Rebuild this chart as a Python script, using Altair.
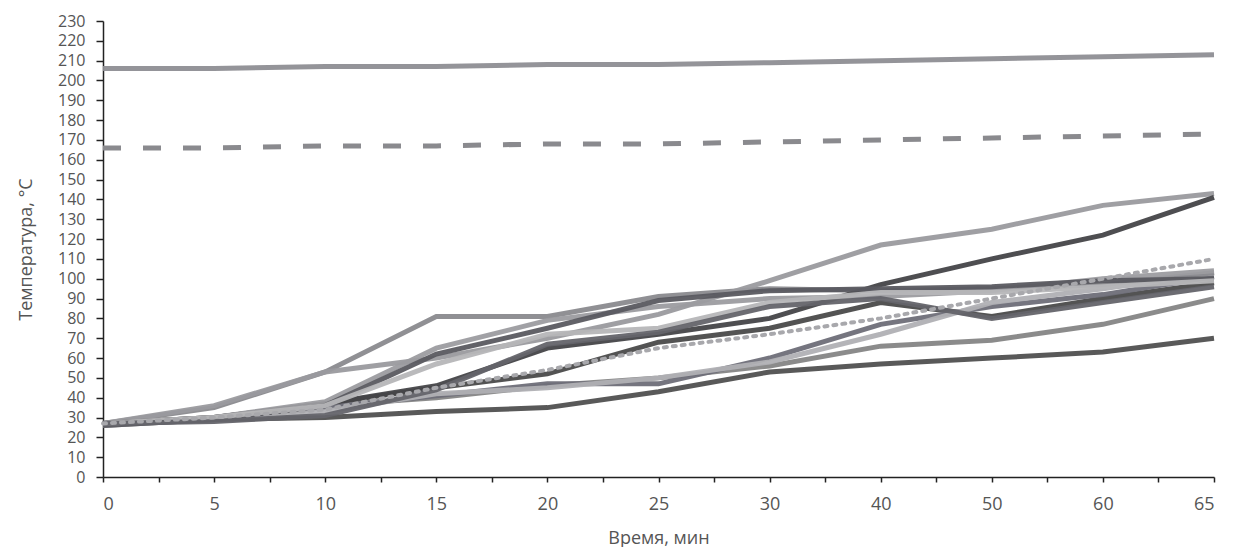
import altair as alt
import pandas as pd

times = ["0", "5", "10", "15", "20", "25", "30", "40", "50", "60", "65"]

top_solid = [206, 206, 207, 207, 208, 208, 209, 210, 211, 212, 213]
dashed = [166, 166, 167, 167, 168, 168, 169, 170, 171, 172, 173]
dotted = [27, 30, 34, 45, 54, 65, 72, 80, 90, 100, 110]

s01 = [27, 29, 30, 33, 35, 43, 53, 57, 60, 63, 70]
s02 = [26, 29, 36, 40, 46, 50, 56, 66, 69, 77, 90]
s03 = [27, 30, 37, 45, 52, 68, 75, 88, 81, 90, 98]
s04 = [27, 29, 35, 41, 47, 47, 60, 77, 86, 92, 101]
s05 = [26, 30, 33, 42, 45, 50, 58, 72, 88, 95, 103]
s06 = [27, 35, 53, 81, 81, 91, 95, 94, 95, 97, 103]
s07 = [27, 36, 53, 60, 70, 82, 99, 117, 125, 137, 143]
s08 = [27, 30, 37, 46, 65, 72, 80, 97, 110, 122, 141]
s09 = [27, 30, 38, 65, 79, 86, 90, 91, 94, 100, 104]
s10 = [26, 29, 36, 62, 75, 89, 94, 95, 96, 99, 100]
s11 = [27, 30, 36, 57, 72, 75, 88, 93, 93, 96, 99]
s12 = [27, 28, 31, 44, 67, 73, 86, 90, 80, 88, 96]

solid_series = {
    "s01": s01, "s02": s02, "s03": s03, "s04": s04, "s05": s05, "s06": s06,
    "s07": s07, "s08": s08, "s09": s09, "s10": s10, "s11": s11, "s12": s12,
    "top": top_solid,
}
solid_colors = ["#505050", "#858585", "#4a4a4a", "#6e6e78", "#b0b0b4", "#8a8a8e",
                "#9a9a9e", "#454548", "#9c9ca0", "#5a5a60", "#b6b6b8", "#64646a",
                "#8e8e94"]

rows = []
for name, vals in solid_series.items():
    for i, v in enumerate(vals):
        rows.append({"series": name, "kind": "solid", "idx": i, "t": v})
for i, v in enumerate(dashed):
    rows.append({"series": "dashed", "kind": "dashed", "idx": i, "t": v})
for i, v in enumerate(dotted):
    rows.append({"series": "dotted", "kind": "dotted", "idx": i, "t": v})
df = pd.DataFrame(rows)

label_expr = "[" + ",".join("'" + t + "'" for t in times) + "][datum.value] || ''"
label_expr = "datum.value % 1 == 0 ? " + label_expr + " : ''"

FONT = "Open Sans"
TXT = "#555555"

x_enc = alt.X(
    "idx:Q",
    scale=alt.Scale(domain=[0, len(times) - 1], nice=False, zero=False),
    axis=alt.Axis(
        title="Время, мин",
        values=[i * 0.5 for i in range(2 * (len(times) - 1) + 1)],
        labelExpr=label_expr,
        labelOverlap=False,
        grid=False,
        tickSize=5,
        tickColor="#222222",
        domainColor="#222222",
        domainWidth=1.5,
        tickWidth=1.5,
        labelPadding=13,
        labelFontSize=18,
        labelColor=TXT,
        labelFont=FONT,
        titleFont=FONT,
        titleFontSize=18,
        titleFontWeight="normal",
        titleColor=TXT,
        titlePadding=16,
    ),
)
y_enc = alt.Y(
    "t:Q",
    scale=alt.Scale(domain=[0, 230], nice=False),
    axis=alt.Axis(
        title="Температура, °C",
        values=list(range(0, 231, 10)),
        labelOverlap=False,
        grid=False,
        tickSize=7,
        tickColor="#222222",
        domainColor="#222222",
        domainWidth=1.5,
        tickWidth=1.5,
        labelPadding=11,
        labelFontSize=16,
        labelColor=TXT,
        labelFont=FONT,
        titleFont=FONT,
        titleFontSize=18,
        titleFontWeight="normal",
        titleColor=TXT,
        titlePadding=22,
        labelBaseline="middle",
    ),
)

base = alt.Chart(df).encode(x=x_enc, y=y_enc, detail="series:N")

solid = base.transform_filter(alt.datum.kind == "solid").mark_line(strokeWidth=5, opacity=0.95).encode(
    color=alt.Color("series:N", scale=alt.Scale(domain=list(solid_series.keys()), range=solid_colors), legend=None),
)
dash = base.transform_filter(alt.datum.kind == "dashed").mark_line(
    strokeWidth=5, color="#8a8a8e", strokeDash=[18, 22])
dot = base.transform_filter(alt.datum.kind == "dotted").mark_line(
    strokeWidth=4, color="#a8a8ac", strokeDash=[3, 6], strokeCap="round")

chart = alt.layer(solid, dot, dash).properties(
    width=1111,
    height=456,
    autosize=alt.AutoSizeParams(type="none"),
    padding={"left": 95, "top": 13, "right": 10, "bottom": 70},
    background="white",
).configure_view(stroke=None)

chart.save("out.html", embed_options={"renderer": "svg", "actions": False})
